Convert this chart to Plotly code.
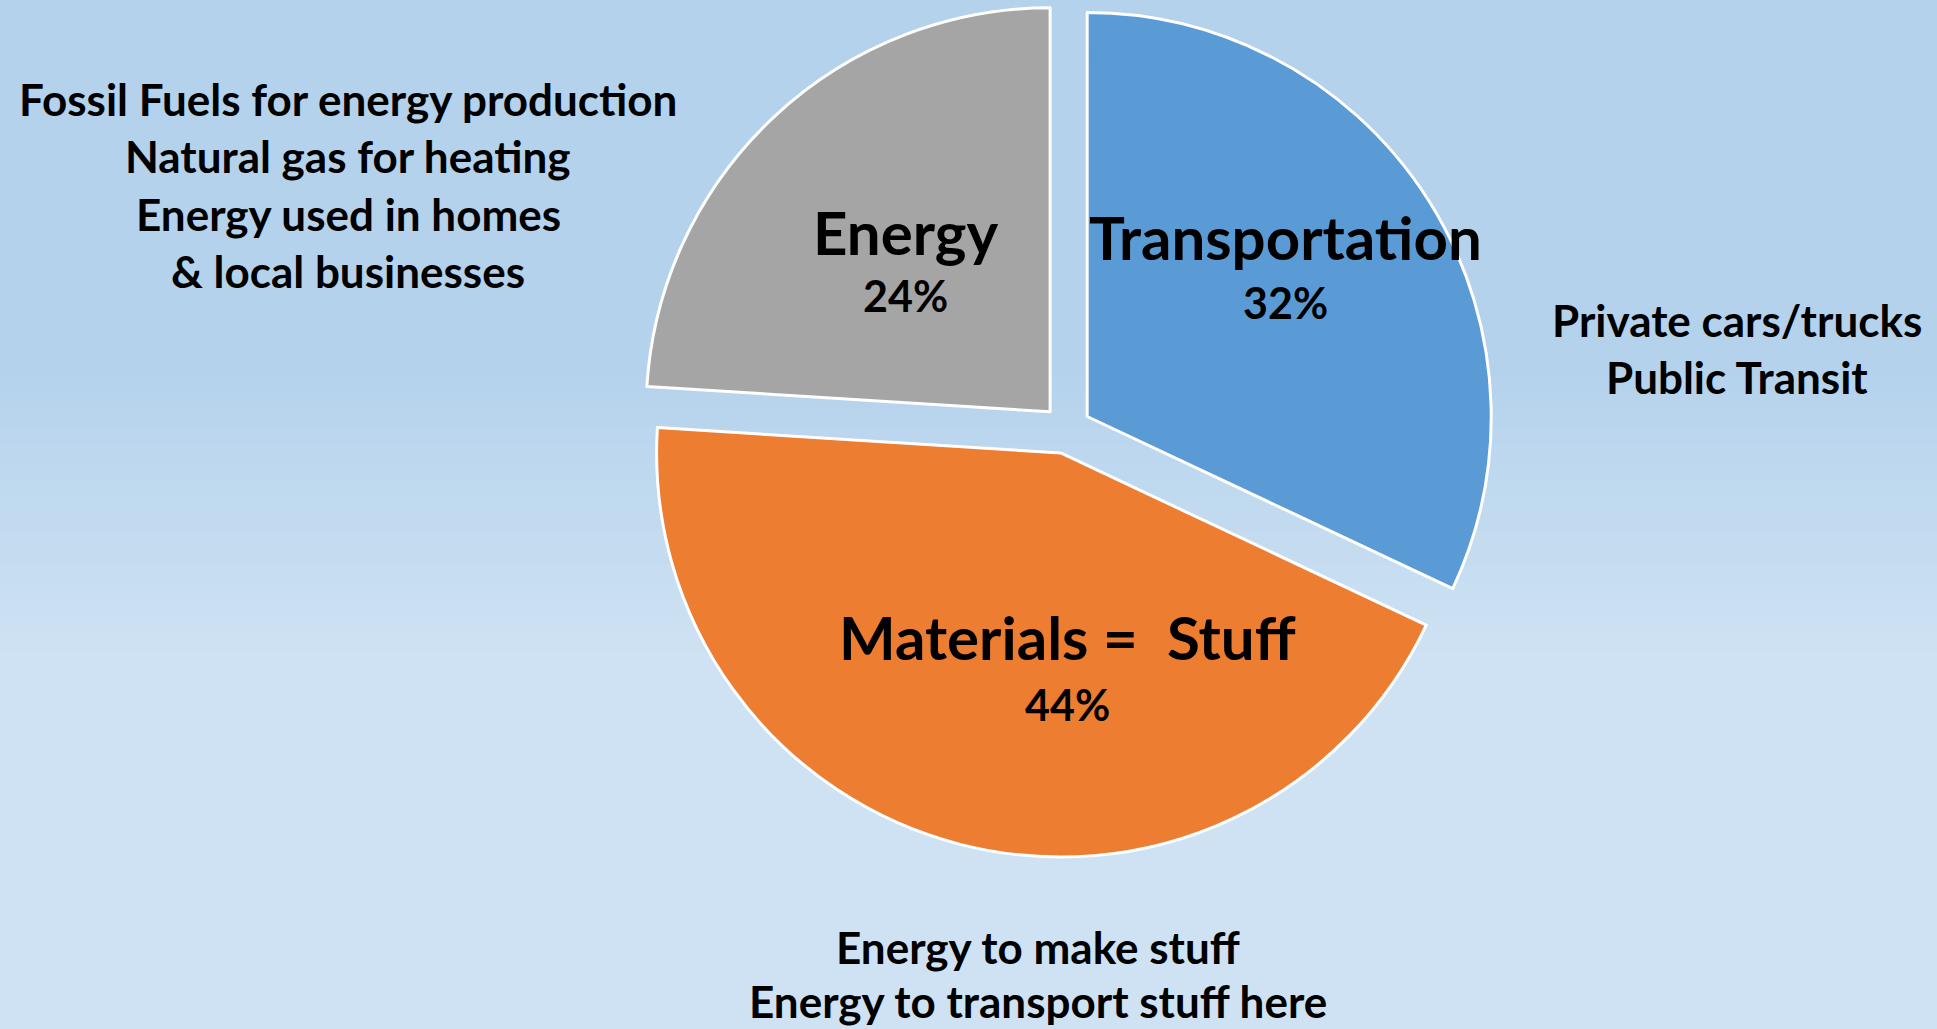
import plotly.graph_objects as go

# ---- data ----
categories = ["Transportation", "Materials =  Stuff", "Energy"]
shares = [32, 44, 24]
slice_colors = ["#5B9BD5", "#ED7D31", "#A5A5A5"]
notes_energy = ["Fossil Fuels for energy production", "Natural gas for heating",
                "Energy used in homes", "& local businesses"]
notes_transport = ["Private cars/trucks", "Public Transit"]
notes_materials = ["Energy to make stuff", "Energy to transport stuff here"]

W, H = 1937, 1029
FONT = "Lato"

def px(x, y):
    return x / W, 1 - y / H

fig = go.Figure()
fig.add_trace(go.Pie(
    labels=categories, values=shares, sort=False, direction="clockwise", rotation=0,
    marker=dict(colors=slice_colors, line=dict(color="white", width=3)),
    pull=[0.06, 0.06, 0.06], textinfo="none", hoverinfo="label+percent",
    showlegend=False,
    domain=dict(x=[638.4 / W, 1495 / W], y=[1 - 857.8 / H, 1 - 1.2 / H]),
))

# background gradient
shapes = []
top = (180, 210, 236)
bot = (207, 226, 243)
N = 60
for i in range(N):
    t = i / (N - 1)
    if t < 0.35:
        f = 0.0
    elif t > 0.65:
        f = 1.0
    else:
        f = (t - 0.35) / 0.30
    c = tuple(round(top[k] + (bot[k] - top[k]) * f) for k in range(3))
    shapes.append(dict(type="rect", xref="paper", yref="paper", layer="below",
                       x0=0, x1=1, y0=1 - (i + 1) / N, y1=1 - i / N + 0.001,
                       line=dict(width=0), fillcolor="rgb(%d,%d,%d)" % c))

ann = []
def add(text, x, y, size, yanchor="middle"):
    xx, yy = px(x, y)
    ann.append(dict(text="<b>%s</b>" % text, x=xx, y=yy, xref="paper", yref="paper",
                    showarrow=False, xanchor="center", yanchor=yanchor,
                    font=dict(family=FONT, size=size, color="black")))

title_pos = [(1285, 237, 1285, 303), (1067, 637, 1067, 704), (905, 232, 905, 296)]
for lab, val, (tx, ty, vx, vy) in zip(categories, shares, title_pos):
    add(lab.replace("  ", "&nbsp; "), tx, ty, 60)
    add("%d%%" % val, vx, vy, 43)

for i, t in enumerate(notes_energy):
    add(t, 348, 99 + i * 57.4, 44)
for i, t in enumerate(notes_transport):
    add(t, 1737, 320 + i * 57, 44)
add(notes_materials[0], 1038, 947, 44)
add(notes_materials[1], 1038, H, 44, yanchor="bottom")

fig.update_layout(width=W, height=H, margin=dict(l=0, r=0, t=0, b=0),
                  paper_bgcolor="rgb(194,218,240)", plot_bgcolor="rgba(0,0,0,0)",
                  shapes=shapes, annotations=ann, font=dict(family=FONT))
fig.write_html("out.html", config={"displayModeBar": False},
               post_script="document.body.style.margin='0';document.body.style.overflow='hidden';")
